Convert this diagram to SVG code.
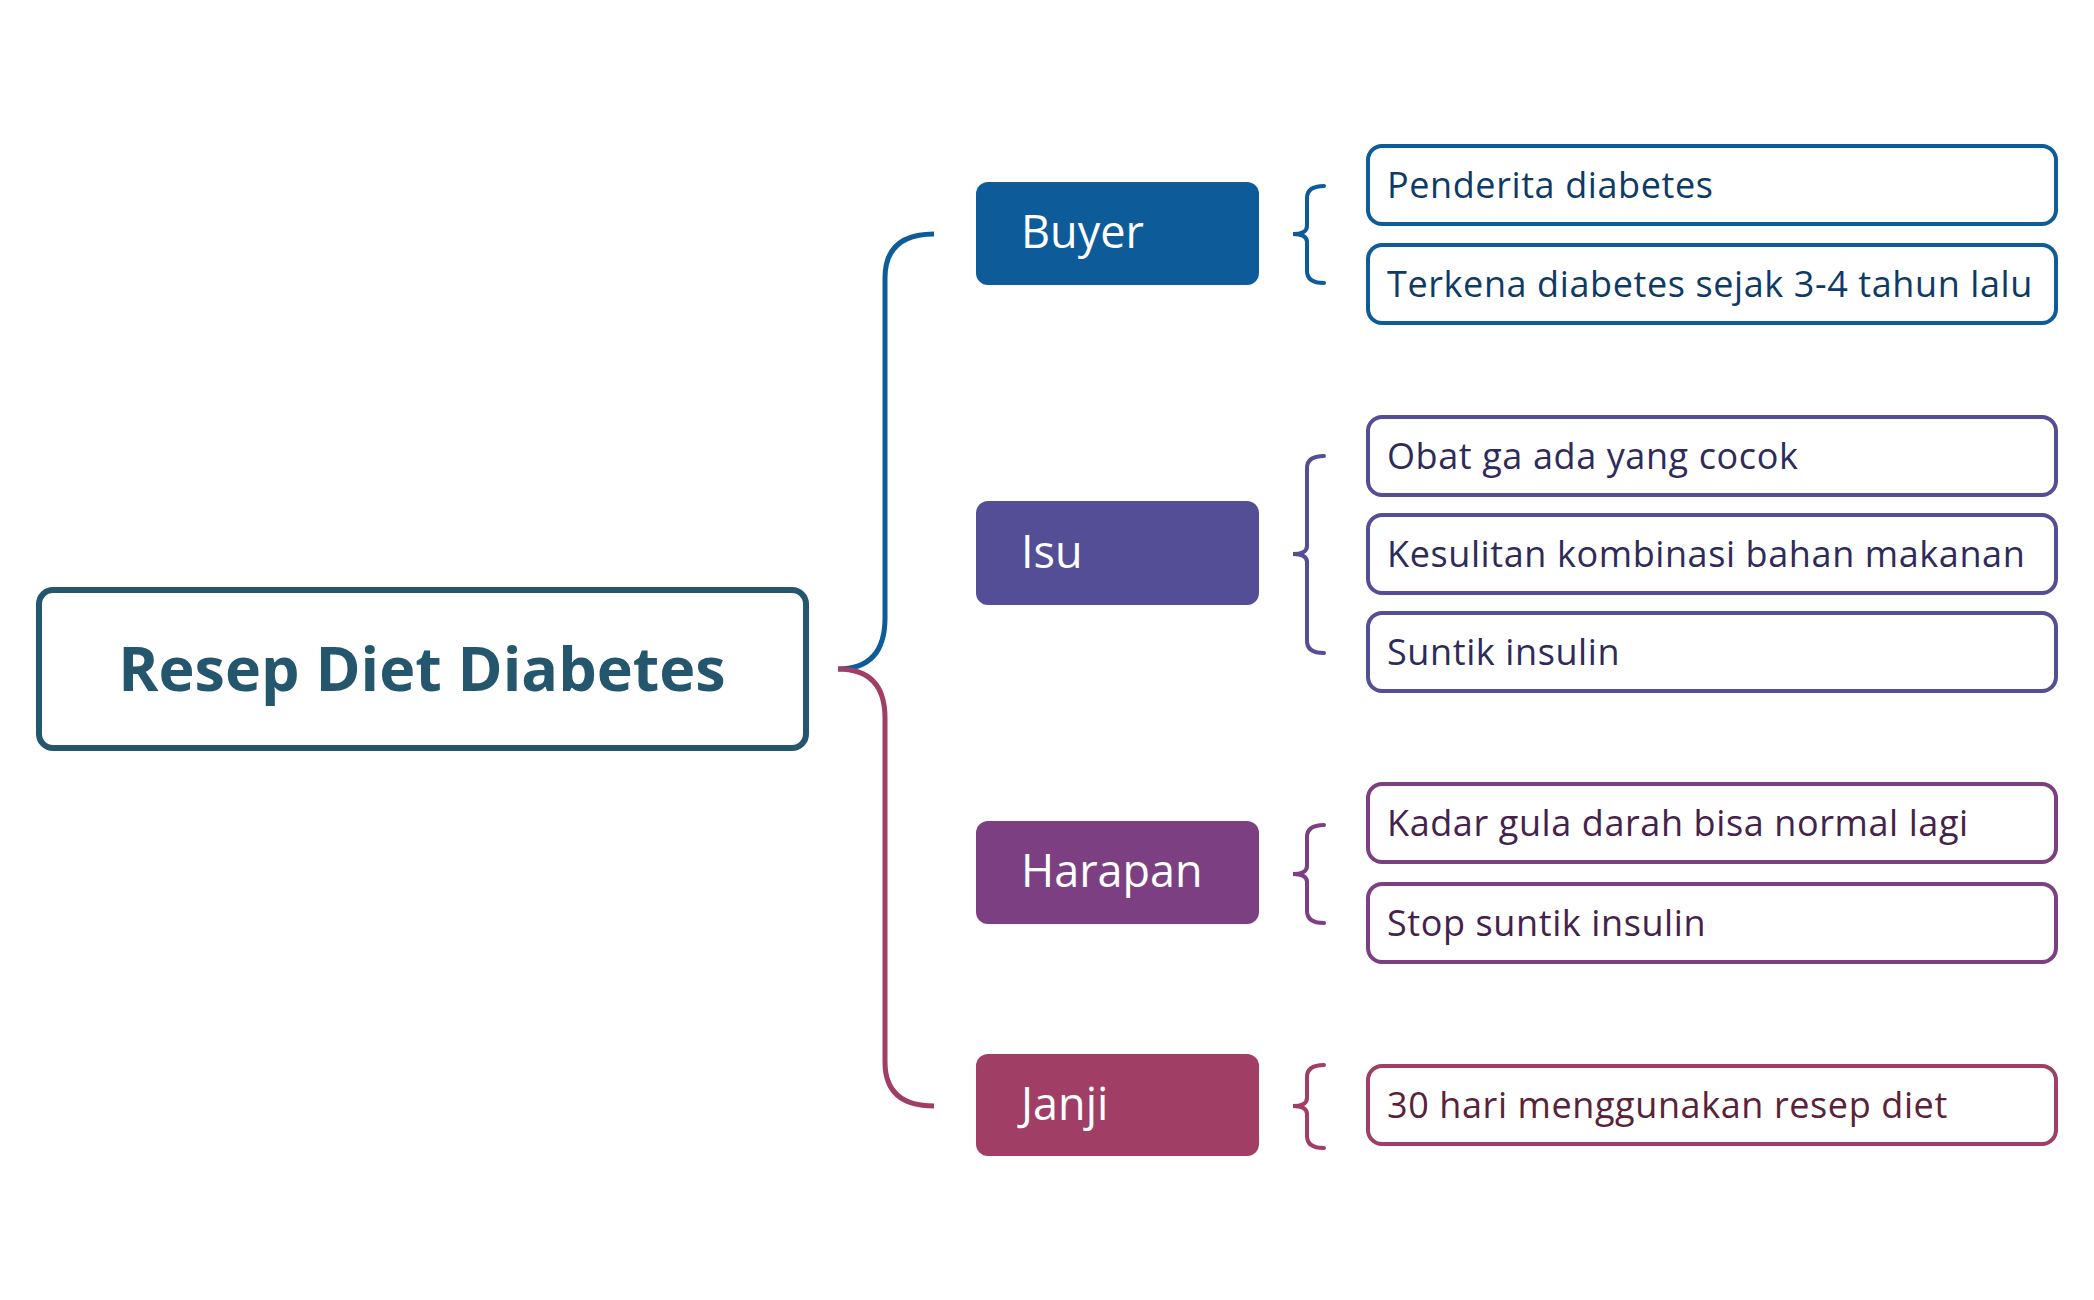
<svg xmlns="http://www.w3.org/2000/svg" width="2094" height="1300" viewBox="0 0 2094 1300">
<style>
.cat{font-family:"Open Sans",sans-serif;font-size:45px;font-weight:500;fill:#fff}
.leaf{fill:#fff;stroke-width:4}
.lt{font-family:"Open Sans",sans-serif;font-size:36px;font-weight:500;letter-spacing:0.6px}
.br{fill:none;stroke-width:4;stroke-linecap:round}
</style>
<rect width="2094" height="1300" fill="#fff"/>
<g transform="translate(-5,-2)">
<g id="connectors" fill="none" stroke-width="5">
<path d="M843,671 Q890,671 890,620 L890,280 Q890,236 939,236" stroke="#0D5C99"/>
<path d="M843,671 Q890,671 890,720 L890,1064 Q890,1108 939,1108" stroke="#A03E65"/>
<path class="br" stroke="#0D5C99" d="M1329,188 Q1312,188 1312,200 L1312,228 Q1312,236 1298,236 Q1312,236 1312,244 L1312,273 Q1312,285 1329,285"/>
<path class="br" stroke="#544E96" d="M1329,458 Q1312,458 1312,470 L1312,548 Q1312,556 1298,556 Q1312,556 1312,564 L1312,643 Q1312,655 1329,655"/>
<path class="br" stroke="#7B3F82" d="M1329,827 Q1312,827 1312,839 L1312,868 Q1312,876 1298,876 Q1312,876 1312,884 L1312,913 Q1312,925 1329,925"/>
<path class="br" stroke="#A03E65" d="M1329,1067 Q1312,1067 1312,1079 L1312,1100 Q1312,1108 1298,1108 Q1312,1108 1312,1116 L1312,1138 Q1312,1150 1329,1150"/>
</g>
<g id="root">
<rect x="44" y="592" width="767" height="158" rx="14" fill="#fff" stroke="#24566E" stroke-width="6"/>
<text x="427" y="693" text-anchor="middle" font-family="Open Sans,sans-serif" font-size="61" font-weight="700" fill="#24566E">Resep Diet Diabetes</text>
</g>
<g id="buyer"><rect x="981" y="184" width="283" height="103" rx="12" fill="#0D5C99"/><text class="cat" x="1026" y="250">Buyer</text></g>
<g id="isu"><rect x="981" y="503" width="283" height="104" rx="12" fill="#544E96"/><text class="cat" x="1026" y="570">Isu</text></g>
<g id="harapan"><rect x="981" y="823" width="283" height="103" rx="12" fill="#7B3F82"/><text class="cat" x="1026" y="889">Harapan</text></g>
<g id="janji"><rect x="981" y="1056" width="283" height="102" rx="12" fill="#A03E65"/><text class="cat" x="1026" y="1122">Janji</text></g>
<g id="leaf1"><rect class="leaf" x="1373" y="148" width="688" height="78" rx="14" stroke="#0D5C99"/><text class="lt" x="1392" y="200" fill="#0D3A66">Penderita diabetes</text></g>
<g id="leaf2"><rect class="leaf" x="1373" y="247" width="688" height="78" rx="14" stroke="#0D5C99"/><text class="lt" x="1392" y="299" fill="#0D3A66">Terkena diabetes sejak 3-4 tahun lalu</text></g>
<g id="leaf3"><rect class="leaf" x="1373" y="419" width="688" height="78" rx="14" stroke="#544E96"/><text class="lt" x="1392" y="471" fill="#2E2A5A">Obat ga ada yang cocok</text></g>
<g id="leaf4"><rect class="leaf" x="1373" y="517" width="688" height="78" rx="14" stroke="#544E96"/><text class="lt" x="1392" y="569" fill="#2E2A5A">Kesulitan kombinasi bahan makanan</text></g>
<g id="leaf5"><rect class="leaf" x="1373" y="615" width="688" height="78" rx="14" stroke="#544E96"/><text class="lt" x="1392" y="667" fill="#2E2A5A">Suntik insulin</text></g>
<g id="leaf6"><rect class="leaf" x="1373" y="786" width="688" height="78" rx="14" stroke="#7B3F82"/><text class="lt" x="1392" y="838" fill="#45224A">Kadar gula darah bisa normal lagi</text></g>
<g id="leaf7"><rect class="leaf" x="1373" y="886" width="688" height="78" rx="14" stroke="#7B3F82"/><text class="lt" x="1392" y="938" fill="#45224A">Stop suntik insulin</text></g>
<g id="leaf8"><rect class="leaf" x="1373" y="1068" width="688" height="78" rx="14" stroke="#A03E65"/><text class="lt" x="1392" y="1120" fill="#5A2238">30 hari menggunakan resep diet</text></g>
</g>
</svg>
